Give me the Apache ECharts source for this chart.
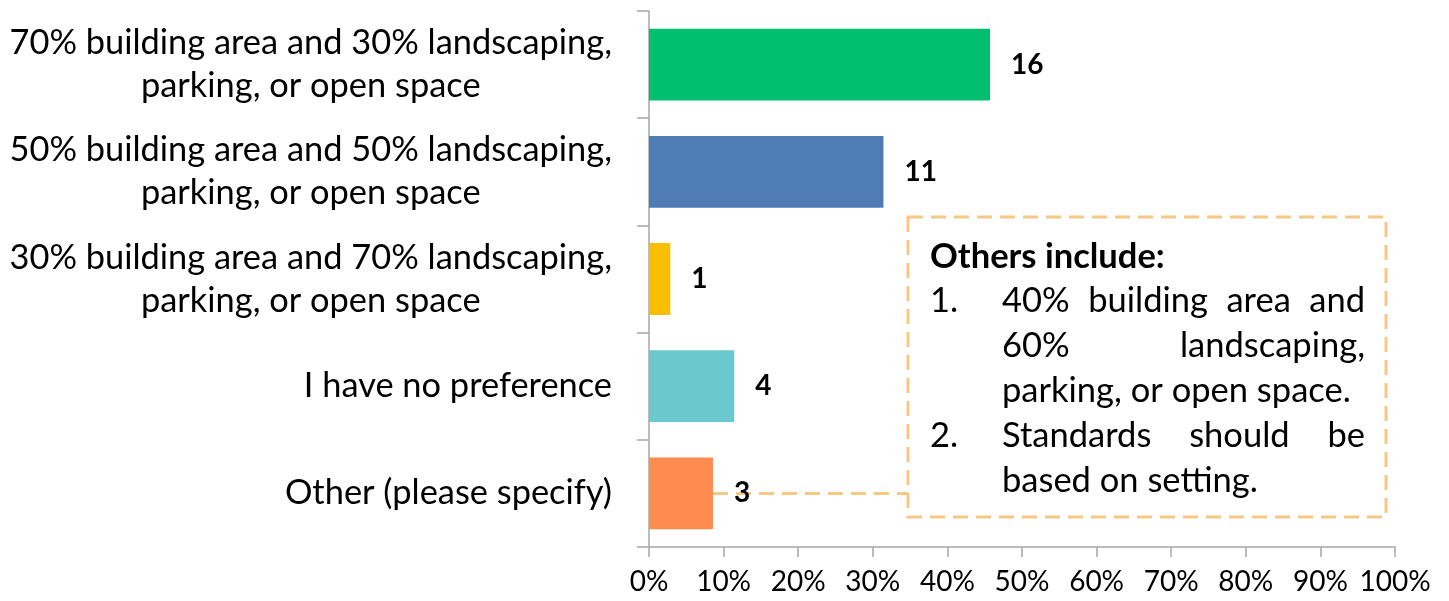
<!DOCTYPE html>
<html>
<head>
<meta charset="utf-8">
<script src="https://cdn.jsdelivr.net/npm/echarts@6/dist/echarts.min.js"></script>
<style>
  html, body { margin: 0; padding: 0; background: #fff; }
  #chart { width: 1449px; height: 601px; }
</style>
</head>
<body>
<div id="chart"></div>
<script>
// Survey question: preferred split between building area and open space
const categories = [
  '70% building area and 30% landscaping,\nparking, or open space',
  '50% building area and 50% landscaping,\nparking, or open space',
  '30% building area and 70% landscaping,\nparking, or open space',
  'I have no preference',
  'Other (please specify)'
];
const responses = [16, 11, 1, 4, 3];
const barColors = ['#00BF6F', '#507CB6', '#F9BE00', '#6BC8CD', '#FF8B4F'];
const percentTicks = [0, 10, 20, 30, 40, 50, 60, 70, 80, 90, 100];

// Call-out text for the "Other" answers
const noteTitle = 'Others include:';
const noteLines = [
  { marker: '1.', words: ['40%', 'building', 'area', 'and'], justify: true },
  { marker: '',   words: ['60%', 'landscaping,'], justify: true },
  { marker: '',   words: ['parking, or open space.'], justify: false },
  { marker: '2.', words: ['Standards', 'should', 'be'], justify: true },
  { marker: '',   words: ['based on setting.'], justify: false }
];

const FONT = 'Lato, "Open Sans", sans-serif';
const NOTE_COLOR = '#F7C784';

const total = responses.reduce((a, b) => a + b, 0);
const shares = responses.map(n => n / total * 100);

const chart = echarts.init(document.getElementById('chart'), null, { renderer: 'canvas' });

chart.setOption({
  backgroundColor: '#ffffff',
  animation: false,
  grid: { left: 649, right: 54, top: 11, bottom: 54, containLabel: false },
  xAxis: {
    type: 'value',
    min: percentTicks[0],
    max: percentTicks[percentTicks.length - 1],
    interval: percentTicks[1] - percentTicks[0],
    axisLine: { show: true, lineStyle: { color: '#A6A6A6', width: 1.5 } },
    axisTick: { show: true, length: 10, lineStyle: { color: '#A6A6A6', width: 1.5 } },
    splitLine: { show: false },
    axisLabel: {
      formatter: '{value}%',
      fontFamily: FONT,
      fontSize: 28,
      color: '#000',
      margin: 21
    }
  },
  yAxis: {
    type: 'category',
    inverse: true,
    data: categories,
    axisLine: { show: true, lineStyle: { color: '#A6A6A6', width: 1.5 } },
    axisTick: { show: true, length: 12, lineStyle: { color: '#A6A6A6', width: 1.5 } },
    axisLabel: {
      margin: 37,
      formatter: v => v.split('\n').map(l => '{c|' + l + '}').join('\n'),
      rich: {
        c: { align: 'center', fontFamily: FONT, fontSize: 34.4, lineHeight: 43, color: '#000' }
      }
    }
  },
  series: [{
    type: 'bar',
    barCategoryGap: '33%',
    data: shares.map((v, i) => ({ value: v, itemStyle: { color: barColors[i] } })),
    label: {
      show: true,
      position: 'right',
      distance: 21,
      formatter: p => String(responses[p.dataIndex]),
      fontFamily: FONT,
      fontWeight: 'bold',
      fontSize: 28,
      color: '#000'
    },
    z: 3
  }]
});

// Call-out box with justified text, joined to the "Other" bar by a dashed leader
const box = { x: 908, y: 217, w: 478, h: 300 };
const textLeft = 1002, textRight = 1365, markerX = 930;
const lineTop = 301, lineStep = 45;
const noteFontSize = 34.5;

const measureCtx = document.createElement('canvas').getContext('2d');
measureCtx.font = noteFontSize + 'px ' + FONT;
const wordWidth = w => measureCtx.measureText(w).width;

const noteElements = [];
noteElements.push({
  type: 'rect',
  shape: { x: box.x, y: box.y, width: box.w, height: box.h },
  style: { fill: '#fff', stroke: NOTE_COLOR, lineWidth: 3, lineDash: [15, 8] },
  z: 1
});
noteElements.push({
  type: 'text',
  x: markerX, y: lineTop - lineStep + 1,
  style: {
    text: noteTitle, fontFamily: FONT, fontSize: noteFontSize, fontWeight: 'bold',
    fill: '#000', textAlign: 'left', textVerticalAlign: 'middle'
  },
  z: 2
});
noteLines.forEach((ln, i) => {
  const y = lineTop + i * lineStep;
  if (ln.marker) {
    noteElements.push({
      type: 'text', x: markerX, y,
      style: { text: ln.marker, fontFamily: FONT, fontSize: noteFontSize, fill: '#000',
               textAlign: 'left', textVerticalAlign: 'middle' },
      z: 2
    });
  }
  const widths = ln.words.map(wordWidth);
  const used = widths.reduce((a, b) => a + b, 0);
  const gap = ln.justify && ln.words.length > 1
    ? (textRight - textLeft - used) / (ln.words.length - 1)
    : 0;
  let x = textLeft;
  ln.words.forEach((w, k) => {
    noteElements.push({
      type: 'text', x, y,
      style: { text: w, fontFamily: FONT, fontSize: noteFontSize, fill: '#000',
               textAlign: 'left', textVerticalAlign: 'middle' },
      z: 2
    });
    x += widths[k] + gap;
  });
});

const otherIdx = categories.length - 1;
const barEnd = chart.convertToPixel({ gridIndex: 0 }, [shares[otherIdx], otherIdx]);
noteElements.push({
  type: 'line',
  shape: { x1: barEnd[0], y1: barEnd[1], x2: box.x, y2: barEnd[1] },
  style: { stroke: NOTE_COLOR, lineWidth: 3, lineDash: [15, 8] },
  z: 0
});

chart.setOption({ graphic: { elements: noteElements } });
</script>
</body>
</html>
